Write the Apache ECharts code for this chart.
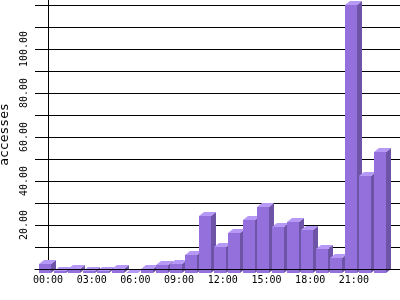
<!DOCTYPE html>
<html>
<head>
<meta charset="utf-8">
<script src="https://cdn.jsdelivr.net/npm/echarts@6/dist/echarts.min.js"></script>
<style>html,body{margin:0;padding:0;background:#fff}#c{width:400px;height:300px}</style>
</head>
<body>
<div id="c"></div>
<script>
const hours = ['00:00','01:00','02:00','03:00','04:00','05:00','06:00','07:00','08:00','09:00','10:00','11:00',
               '12:00','13:00','14:00','15:00','16:00','17:00','18:00','19:00','20:00','21:00','22:00','23:00'];
const accesses = [4, 1, 2, 1, 1, 2, 0, 2, 3.5, 4, 8, 26, 12, 18, 24, 30, 21, 23, 19.5, 11, 7, 122, 44, 55];
const xTickPositions = [0, 3, 6, 9, 12, 15, 18, 21];
const yMaxValue = 122.27;

const FRONT = '#9370DB', SIDE = '#6E54A6', TOP = '#B698F6';
const DX = 5, DY = 4;

const chart = echarts.init(document.getElementById('c'), null, {renderer: 'canvas'});
chart.setOption({
  animation: false,
  backgroundColor: '#fff',
  grid: {left: 35, right: 0, top: 0, bottom: 31, containLabel: false, outerBoundsMode: 'none'},
  xAxis: {
    type: 'value',
    min: -13 / 14.565,
    max: 352 / 14.565,
    z: 5,
    axisLine: {show: true, lineStyle: {color: '#000', width: 1}},
    axisTick: {show: false},
    splitLine: {show: false},
    axisLabel: {
      customValues: xTickPositions,
      formatter: v => hours[Math.round(v)],
      color: '#000', fontFamily: 'DejaVu Sans Mono', fontSize: 10, margin: 6
    }
  },
  yAxis: {
    type: 'value',
    min: 0,
    max: yMaxValue,
    interval: 10,
    name: 'accesses',
    nameLocation: 'middle',
    nameRotate: 90,
    nameGap: 17,
    nameTextStyle: {color: '#000', fontFamily: 'DejaVu Sans Mono', fontSize: 13},
    axisLine: {show: true, lineStyle: {color: '#000', width: 1}},
    axisTick: {show: false},
    splitLine: {show: true, showMaxLine: false, lineStyle: {color: '#000', width: 1}},
    axisLabel: {
      rotate: 90,
      margin: 6,
      color: '#000', fontFamily: 'DejaVu Sans Mono', fontSize: 10,
      formatter: v => (v > 0 && v <= 100 && Math.round(v) % 20 === 0) ? v.toFixed(2) : ''
    }
  },
  series: [{
    type: 'custom',
    clip: false,
    z: 2,
    data: accesses.map((v, i) => [i, v]),
    renderItem: (params, api) => {
      const top = api.coord([api.value(0), api.value(1)]);
      const base = api.coord([api.value(0), 0]);
      const x = Math.round(top[0]);
      const yt = Math.round(top[1]);
      const yb = Math.round(base[1]);
      return {
        type: 'group',
        children: [
          {type: 'rect', shape: {x: x - 9, y: yt + DY, width: 12, height: yb - yt}, style: {fill: FRONT}},
          {type: 'polygon', shape: {points: [[x + 3, yt + DY], [x + 3 + DX, yt], [x + 3 + DX, yb], [x + 3, yb + DY]]}, style: {fill: SIDE}},
          {type: 'polygon', shape: {points: [[x - 9, yt + DY], [x + 3, yt + DY], [x + 3 + DX, yt], [x - 9 + DX, yt]]}, style: {fill: TOP}}
        ]
      };
    }
  }]
});
</script>
</body>
</html>
